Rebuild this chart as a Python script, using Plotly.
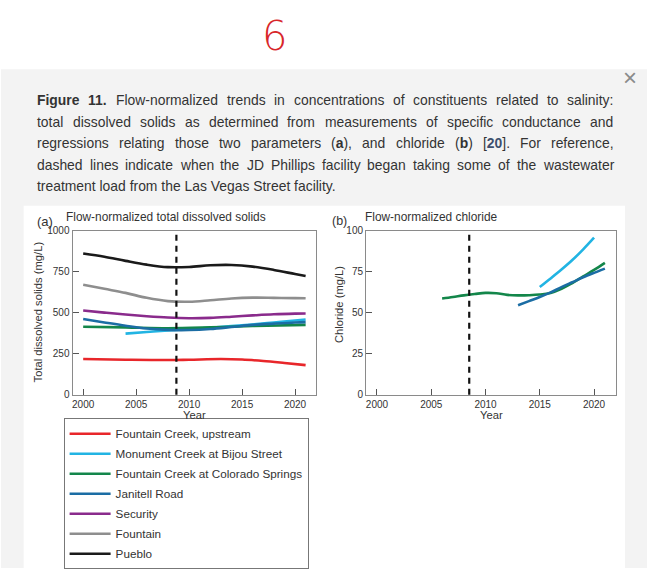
import plotly.graph_objects as go

W, H = 647, 574

# ---------------- data ----------------
series_names = ["Fountain Creek, upstream", "Monument Creek at Bijou Street",
                "Fountain Creek at Colorado Springs", "Janitell Road",
                "Security", "Fountain", "Pueblo"]
series_colors = ["#e8262a", "#22b4e3", "#13864a", "#1b6da4", "#8a2b8c", "#8e8e8e", "#1a1a1a"]

# Panel (a): flow-normalized total dissolved solids (mg/L)
tds_upstream_years = [2000, 2004, 2008, 2010, 2013, 2015, 2017, 2019, 2021]
tds_upstream = [217, 213, 211, 213, 217, 214, 205, 193, 180]

tds_monument_years = [2004, 2006, 2008, 2010, 2012, 2014, 2016, 2018, 2020, 2021]
tds_monument = [372, 382, 392, 400, 408, 418, 428, 440, 452, 458]

tds_cos_years = [2000, 2004, 2008, 2012, 2016, 2021]
tds_cos = [414, 410, 405, 410, 418, 425]

tds_janitell_years = [2000, 2002, 2004, 2006, 2008, 2010, 2012, 2014, 2016, 2018, 2020, 2021]
tds_janitell = [461, 440, 420, 403, 395, 394, 400, 412, 425, 433, 440, 442]

tds_security_years = [2000, 2002, 2004, 2006, 2008, 2010, 2012, 2014, 2016, 2018, 2020, 2021]
tds_security = [513, 500, 488, 478, 470, 466, 468, 475, 483, 490, 494, 495]

tds_fountain_years = [2000, 2002, 2004, 2006, 2008, 2010, 2012, 2014, 2016, 2018, 2020, 2021]
tds_fountain = [670, 645, 620, 590, 570, 566, 575, 586, 591, 590, 588, 587]

tds_pueblo_years = [2000, 2002, 2004, 2006, 2008, 2010, 2012, 2014, 2016, 2018, 2020, 2021]
tds_pueblo = [860, 840, 815, 792, 777, 778, 788, 790, 780, 760, 735, 723]

# Panel (b): flow-normalized chloride (mg/L)
cl_cos_years = [2006, 2007, 2008, 2009, 2010, 2011, 2012, 2013, 2014, 2015, 2016, 2017, 2018, 2019, 2020, 2021]
cl_cos = [58.6, 59.5, 60.5, 61.3, 62.0, 61.8, 60.8, 60.5, 60.6, 61.0, 62.0, 64.5, 68.0, 72.0, 76.0, 80.3]

cl_janitell_years = [2013, 2014, 2015, 2016, 2017, 2018, 2019, 2020, 2021]
cl_janitell = [54.5, 57.0, 59.5, 62.3, 65.5, 68.5, 71.5, 74.2, 76.8]

cl_monument_years = [2015, 2016, 2017, 2018, 2019, 2020]
cl_monument = [65.6, 70.8, 76.2, 82.0, 88.5, 95.6]

x_ticks = [2000, 2005, 2010, 2015, 2020]
tds_ticks = [0, 250, 500, 750, 1000]
cl_ticks = [0, 25, 50, 75, 100]
jd_phillips_year_a = 2008.8
jd_phillips_year_b = 2008.5

caption_lines = [
    "<b>Figure</b> <b>11.</b> Flow-normalized trends in concentrations of constituents related to salinity:",
    "total dissolved solids as determined from measurements of specific conductance and",
    "regressions relating those two parameters (<b>a</b>), and chloride (<b>b</b>) [<b><span style='color:#3d4f6e'>20</span></b>]. For reference,",
    "dashed lines indicate when the JD Phillips facility began taking some of the wastewater",
    "treatment load from the Las Vegas Street facility.",
]

# ---------------- helpers ----------------
def px(x):
    return x / W

def py(y):
    return 1 - y / H

# Arial / Liberation Sans advance widths (1/1000 em) for justifying the caption
REG = {' ': 278, '(': 333, ')': 333, ',': 278, '-': 333, '.': 278, '/': 278, ':': 278,
       '[': 278, ']': 278,
       'A': 667, 'B': 667, 'C': 722, 'D': 722, 'E': 667, 'F': 611, 'G': 778, 'H': 722,
       'I': 278, 'J': 500, 'K': 667, 'L': 556, 'M': 833, 'N': 722, 'O': 778, 'P': 667,
       'Q': 778, 'R': 722, 'S': 667, 'T': 611, 'U': 722, 'V': 667, 'W': 944, 'X': 667,
       'Y': 667, 'Z': 611,
       'a': 556, 'b': 556, 'c': 500, 'd': 556, 'e': 556, 'f': 278, 'g': 556, 'h': 556,
       'i': 222, 'j': 222, 'k': 500, 'l': 222, 'm': 833, 'n': 556, 'o': 556, 'p': 556,
       'q': 556, 'r': 333, 's': 500, 't': 278, 'u': 556, 'v': 500, 'w': 722, 'x': 500,
       'y': 500, 'z': 500}
BOLD = {'F': 611, 'i': 278, 'g': 611, 'u': 611, 'r': 389, 'e': 556, 'a': 556, 'b': 611,
        '.': 278, ' ': 278}


def split_words(s):
    words, cur, in_tag = [], "", False
    for ch in s:
        if ch == '<':
            in_tag = True
        elif ch == '>':
            in_tag = False
        if ch == ' ' and not in_tag:
            words.append(cur)
            cur = ""
        else:
            cur += ch
    words.append(cur)
    return words


def text_width(s, size):
    bold = False
    i = 0
    w = 0
    while i < len(s):
        if s[i] == '<':
            j = s.index('>', i)
            tag = s[i:j + 1]
            if tag == '<b>':
                bold = True
            elif tag == '</b>':
                bold = False
            i = j + 1
            continue
        ch = s[i]
        base = REG.get(ch, 556)
        w += BOLD.get(ch, base) if bold else base
        i += 1
    return w * size / 1000.0


CH_FONT = "Liberation Sans, Arial, sans-serif"
CAP_FONT = "Liberation Sans, Arial, sans-serif"
TXT = "#333333"

fig = go.Figure()

tds_sets = [
    (tds_upstream_years, tds_upstream),
    (tds_monument_years, tds_monument),
    (tds_cos_years, tds_cos),
    (tds_janitell_years, tds_janitell),
    (tds_security_years, tds_security),
    (tds_fountain_years, tds_fountain),
    (tds_pueblo_years, tds_pueblo),
]
for i, (xs, ys) in enumerate(tds_sets):
    fig.add_trace(go.Scatter(
        x=xs, y=ys, mode="lines", name=series_names[i],
        line=dict(color=series_colors[i], width=2.6, shape="spline", smoothing=1.0),
        xaxis="x", yaxis="y", legendgroup=f"g{i}", showlegend=True,
        hoverinfo="skip"))

cl_sets = [
    (2, cl_cos_years, cl_cos),
    (3, cl_janitell_years, cl_janitell),
    (1, cl_monument_years, cl_monument),
]
for idx, xs, ys in cl_sets:
    fig.add_trace(go.Scatter(
        x=xs, y=ys, mode="lines", name=series_names[idx],
        line=dict(color=series_colors[idx], width=2.6, shape="spline", smoothing=1.0),
        xaxis="x2", yaxis="y2", legendgroup=f"g{idx}", showlegend=False,
        hoverinfo="skip"))

axis_common = dict(
    showline=True, mirror=True, linecolor="#8a8a8a", linewidth=1.2,
    ticks="inside", ticklen=6, tickwidth=1.2, tickcolor="#555555",
    showgrid=False, zeroline=False,
    tickfont=dict(family=CH_FONT, size=10, color=TXT),
)

fig.update_layout(
    width=W, height=H,
    margin=dict(l=0, r=0, t=0, b=0),
    paper_bgcolor="white", plot_bgcolor="white",
    showlegend=True,
    xaxis=dict(domain=[px(71.7), px(315.7)], range=[1999, 2022], tickvals=x_ticks,
               anchor="y", **axis_common),
    yaxis=dict(domain=[py(397), py(229.3)], range=[0, 1000], tickvals=tds_ticks,
               anchor="x", **axis_common),
    xaxis2=dict(domain=[px(365.7), px(615.7)], range=[1999, 2022], tickvals=x_ticks,
                anchor="y2", **axis_common),
    yaxis2=dict(domain=[py(397), py(229.3)], range=[0, 100], tickvals=cl_ticks,
                anchor="x2", **axis_common),
    legend=dict(
        x=px(62.7), y=py(421), xanchor="left", yanchor="top",
        bgcolor="white", bordercolor="#777777", borderwidth=1,
        font=dict(family=CH_FONT, size=11.7, color=TXT),
        tracegroupgap=1, itemwidth=41, traceorder="grouped",
    ),
)

shapes = [
    # grey page panel
    dict(type="rect", xref="paper", yref="paper", x0=0, x1=1, y0=0, y1=py(64.5),
         fillcolor="#f3f3f3", line=dict(width=0), layer="below"),
    # white figure image area
    dict(type="rect", xref="paper", yref="paper", x0=px(22.7), x1=px(625), y0=0, y1=py(204),
         fillcolor="white", line=dict(width=0), layer="below"),
    # dashed reference lines (JD Phillips facility)
    dict(type="line", xref="x", yref="y domain", x0=jd_phillips_year_a, x1=jd_phillips_year_a,
         y0=0, y1=1, line=dict(color="#111111", width=2.2, dash="6px,5px")),
    dict(type="line", xref="x2", yref="y2 domain", x0=jd_phillips_year_b, x1=jd_phillips_year_b,
         y0=0, y1=1, line=dict(color="#111111", width=2.2, dash="6px,5px")),
]
fig.update_layout(shapes=shapes)

ann = []
# handwritten-like "6"
ann.append(dict(text="6", x=px(274), y=py(31), xref="paper", yref="paper",
                showarrow=False, xanchor="center", yanchor="middle",
                font=dict(family="DejaVu Sans", size=40, color="#d8262a", weight=200)))
# close icon
ann.append(dict(text="×", x=px(630), y=py(73), xref="paper", yref="paper",
                showarrow=False, xanchor="center", yanchor="middle",
                font=dict(family="Liberation Sans", size=24, color="#8a8a8a")))

# caption lines (first four justified between x=35 and x=612.5)
CAP_SIZE = 13.9
cap_y = [96, 118, 140, 162, 184]
LEFT, RIGHT = 35.0, 612.5
for li, (t, yy) in enumerate(zip(caption_lines, cap_y)):
    if li < len(caption_lines) - 1:
        words = split_words(t)
        widths = [text_width(w, CAP_SIZE) for w in words]
        gap = (RIGHT - LEFT - sum(widths)) / (len(words) - 1)
        xcur = LEFT
        for w, wd in zip(words, widths):
            ann.append(dict(text=w, x=px(xcur - 1), y=py(yy), xref="paper", yref="paper",
                            showarrow=False, xanchor="left", yanchor="middle", align="left",
                            font=dict(family=CAP_FONT, size=CAP_SIZE, color=TXT)))
            xcur += wd + gap
    else:
        ann.append(dict(text=t, x=px(LEFT - 1), y=py(yy), xref="paper", yref="paper",
                        showarrow=False, xanchor="left", yanchor="middle", align="left",
                        font=dict(family=CAP_FONT, size=CAP_SIZE, color=TXT)))

# panel labels and titles
for txt, xx, yy, sz in [
    ("(a)", 34, 220, 13),
    ("Flow-normalized total dissolved solids", 63, 216, 11.9),
    ("(b)", 330, 220, 12.5),
    ("Flow-normalized chloride", 363, 216, 11.9),
]:
    ann.append(dict(text=txt, x=px(xx), y=py(yy), xref="paper", yref="paper",
                    showarrow=False, xanchor="left", yanchor="middle",
                    font=dict(family=CH_FONT, size=sz, color=TXT)))
# axis titles
for txt, xx, yy, ang in [
    ("Total dissolved solids (mg/L)", 38, 312, -90),
    ("Chloride (mg/L)", 338, 305, -90),
    ("Year", 194, 417.5, 0),
    ("Year", 491, 417.5, 0),
]:
    ann.append(dict(text=txt, x=px(xx), y=py(yy), xref="paper", yref="paper",
                    showarrow=False, xanchor="center", yanchor="middle", textangle=ang,
                    font=dict(family=CH_FONT, size=11.2, color=TXT)))
fig.update_layout(annotations=ann)

fig.write_html(
    "out.html",
    config={"displayModeBar": False},
    post_script="document.body.style.margin='0';document.body.style.padding='0';"
                "document.documentElement.style.overflow='hidden';",
)
